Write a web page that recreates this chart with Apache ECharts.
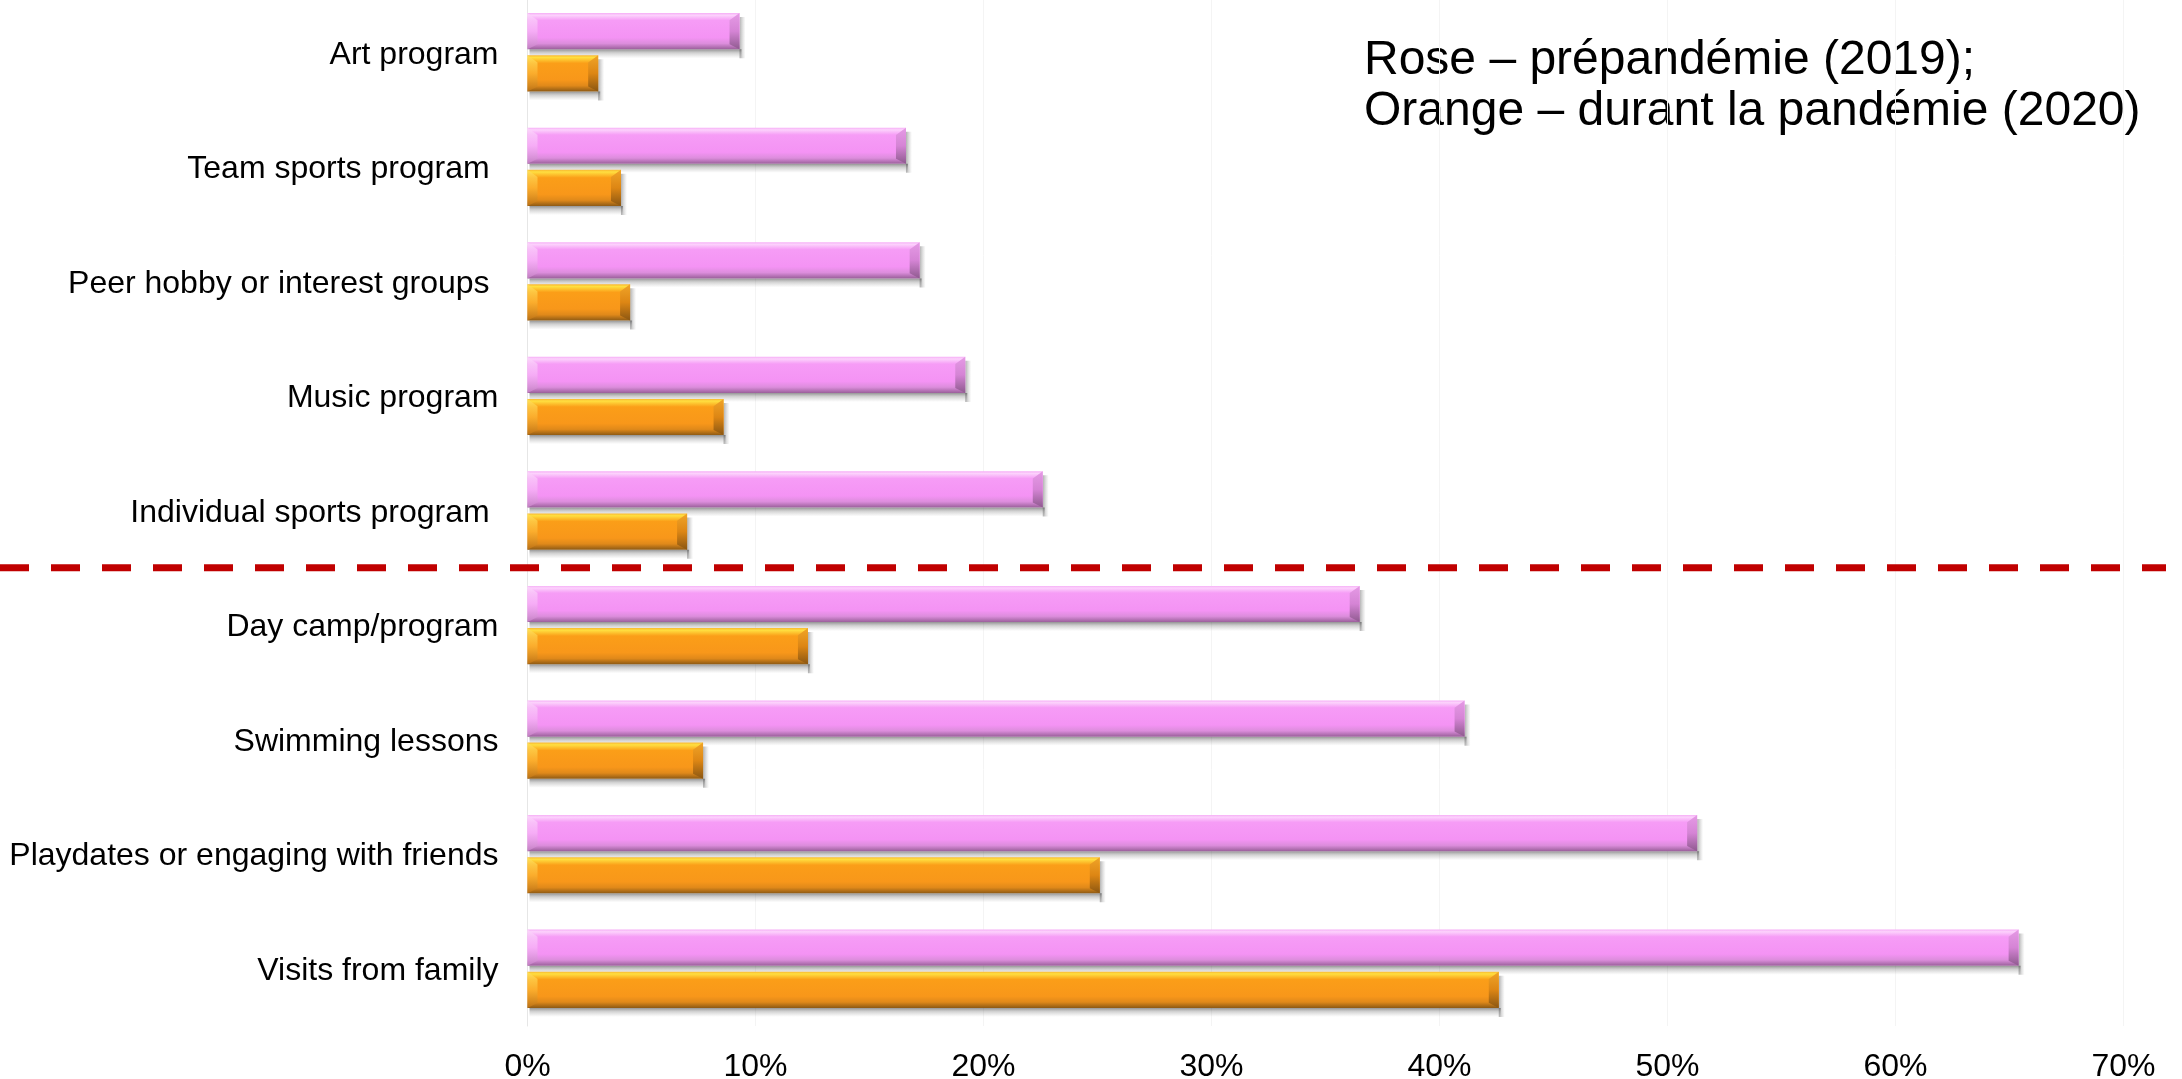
<!DOCTYPE html>
<html>
<head>
<meta charset="utf-8">
<script src="https://cdn.jsdelivr.net/npm/echarts@6/dist/echarts.min.js"></script>
<style>
  html, body { margin: 0; padding: 0; background: #ffffff; }
  #chart { width: 2182px; height: 1079px; }
</style>
</head>
<body>
<div id="chart"></div>
<script>
// Activities, listed top to bottom
const categories = [
  'Art program',
  'Team sports program ',
  'Peer hobby or interest groups ',
  'Music program',
  'Individual sports program ',
  'Day camp/program',
  'Swimming lessons',
  'Playdates or engaging with friends',
  'Visits from family'
];

// Share of children (%) before the pandemic (2019)
const prePandemic2019 = [9.3, 16.6, 17.2, 19.2, 22.6, 36.5, 41.1, 51.3, 65.4];

// Share of children (%) during the pandemic (2020)
const pandemic2020 = [3.1, 4.1, 4.5, 8.6, 7.0, 12.3, 7.7, 25.1, 42.6];

// Percent axis ticks
const xTicks = { min: 0, max: 70, interval: 10 };

const legendLines = [
  'Rose – prépandémie (2019);',
  'Orange – durant la pandémie (2020)'
];

// The dashed separator sits between these two categories
const separatorBetween = ['Individual sports program ', 'Day camp/program'];

// Colour sets for the bevelled bars
const pinkPalette = {
  face: [[0, '#f6aef6'], [0.06, '#fcd2fc'], [0.2, '#f69cf6'], [0.68, '#f493f4'], [0.84, '#dc8ddc'], [1, '#9a5f9a']],
  left: [[0, '#fbd6fb'], [0.5, '#f6b0f6'], [1, '#c884c8']],
  right: [[0, '#e59ae5'], [0.5, '#d584d5'], [1, '#8e5a8e']]
};
const orangePalette = {
  face: [[0, '#f8b832'], [0.06, '#ffdf40'], [0.22, '#fb9e18'], [0.68, '#f8971a'], [0.84, '#e0891a'], [1, '#8e5a14']],
  left: [[0, '#ffe15a'], [0.5, '#fbb030'], [1, '#c07416']],
  right: [[0, '#f0a428'], [0.5, '#dd8614'], [1, '#8a5612']]
};

function vGrad(stops) {
  return new echarts.graphic.LinearGradient(0, 0, 0, 1,
    stops.map(([offset, color]) => ({ offset, color })));
}
function hGrad(stops) {
  return new echarts.graphic.LinearGradient(0, 0, 1, 0,
    stops.map(([offset, color]) => ({ offset, color })));
}

// Draws one bevelled bar with its drop shadow; side = -1 puts it above the band centre, +1 below
function bevelBar(palette, side) {
  return function (params, api) {
    const value = api.value(0);
    const cat = api.value(1);
    const start = api.coord([0, cat]);
    const end = api.coord([value, cat]);
    const band = api.size([0, 1])[1];
    const h = band * 0.316;
    const gap = band * 0.052;
    const x0 = start[0];
    const x1 = end[0];
    const y = side < 0 ? start[1] - gap / 2 - h : start[1] + gap / 2;
    const w = Math.max(x1 - x0, 0);
    const b = Math.min(10, w / 2);
    const tb = h * 0.2;
    const bb = h * 0.14;
    const sh = 9;   // shadow depth below the bar
    const sr = 6;   // shadow width beyond the right end

    return {
      type: 'group',
      children: [
        {
          type: 'rect',
          shape: { x: x0 + 2, y: y + h, width: w, height: sh },
          style: {
            fill: vGrad([[0, 'rgba(60,60,60,0.55)'], [0.4, 'rgba(90,90,90,0.28)'], [1, 'rgba(120,120,120,0)']])
          }
        },
        {
          type: 'rect',
          shape: { x: x1, y: y + 4, width: sr, height: h + sh - 4 },
          style: {
            fill: hGrad([[0, 'rgba(60,60,60,0.4)'], [1, 'rgba(120,120,120,0)']])
          }
        },
        {
          type: 'rect',
          shape: { x: x0, y: y, width: w, height: h },
          style: { fill: vGrad(palette.face) }
        },
        {
          type: 'polygon',
          shape: { points: [[x0, y], [x0 + b, y + tb], [x0 + b, y + h - bb], [x0, y + h]] },
          style: { fill: vGrad(palette.left), opacity: 0.85 }
        },
        {
          type: 'polygon',
          shape: { points: [[x1, y], [x1, y + h], [x1 - b, y + h - bb], [x1 - b, y + tb]] },
          style: { fill: vGrad(palette.right) }
        }
      ]
    };
  };
}

const chart = echarts.init(document.getElementById('chart'), null, { renderer: 'canvas' });

chart.setOption({
  animation: false,
  backgroundColor: '#ffffff',
  grid: {
    left: 527.5, right: 58.5, top: -5, bottom: 53,
    containLabel: false,
    outerBoundsMode: 'none'
  },
  xAxis: {
    type: 'value',
    min: xTicks.min,
    max: xTicks.max,
    interval: xTicks.interval,
    axisLine: { show: false },
    axisTick: { show: false },
    splitLine: { show: true, lineStyle: { color: '#f4f4f4', width: 1 } },
    axisLabel: {
      formatter: '{value}%',
      color: '#000000',
      fontFamily: '"Liberation Sans", Arial, sans-serif',
      fontSize: 32,
      margin: 25
    }
  },
  yAxis: {
    type: 'category',
    data: categories,
    inverse: true,
    axisTick: { show: false },
    axisLine: { show: true, lineStyle: { color: '#e6e6e6', width: 1 } },
    axisLabel: {
      margin: 29,
      verticalAlign: 'middle',
      formatter: (name) => '{cat|' + name + '}',
      rich: {
        cat: {
          color: '#000000',
          fontFamily: '"Liberation Sans", Arial, sans-serif',
          fontSize: 32,
          lineHeight: 38,
          padding: [5, 0, 0, 0]
        }
      }
    }
  },
  series: [
    {
      name: '2019',
      type: 'custom',
      coordinateSystem: 'cartesian2d',
      encode: { x: 0, y: 1 },
      renderItem: bevelBar(pinkPalette, -1),
      data: prePandemic2019.map((v, i) => [v, i])
    },
    {
      name: '2020',
      type: 'custom',
      coordinateSystem: 'cartesian2d',
      encode: { x: 0, y: 1 },
      renderItem: bevelBar(orangePalette, 1),
      data: pandemic2020.map((v, i) => [v, i])
    }
  ],
  graphic: [
    {
      id: 'legendNote',
      type: 'text',
      left: 1364,
      top: 35,
      style: {
        text: legendLines.join('\n'),
        font: '48px "Liberation Sans", Arial, sans-serif',
        lineHeight: 51,
        fill: '#000000'
      }
    }
  ]
});

// Dashed separator between the two groups of activities
const yA = chart.convertToPixel({ yAxisIndex: 0 }, separatorBetween[0]);
const yB = chart.convertToPixel({ yAxisIndex: 0 }, separatorBetween[1]);
const ySep = (yA + yB) / 2;

chart.setOption({
  graphic: [
    {
      id: 'separator',
      type: 'line',
      shape: { x1: 0, y1: ySep, x2: 2166, y2: ySep },
      style: { stroke: '#c00000', lineWidth: 7, lineDash: [29, 22] },
      z: 10
    }
  ]
});
</script>
</body>
</html>
